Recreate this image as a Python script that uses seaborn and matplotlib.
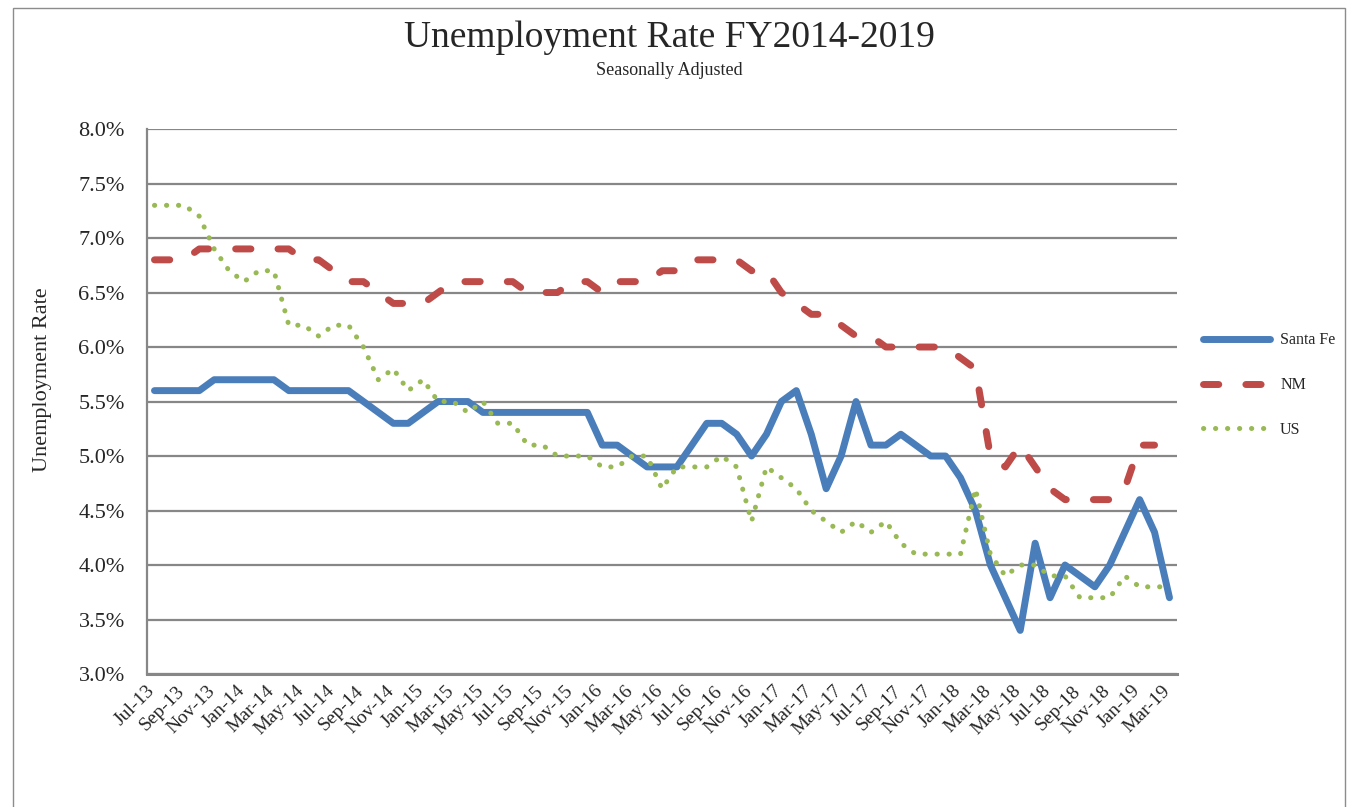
import pandas as pd
import numpy as np
import seaborn as sns
import matplotlib.pyplot as plt
import matplotlib.transforms as mtransforms
from matplotlib.ticker import PercentFormatter
from matplotlib.patches import Rectangle

# monthly categories Jul-13 .. Mar-19
months = pd.date_range("2013-07-01", "2019-03-01", freq="MS").strftime("%b-%y").tolist()

# unemployment rates (%)
santa_fe = [5.6, 5.6, 5.6, 5.6, 5.7, 5.7, 5.7, 5.7, 5.7, 5.6, 5.6, 5.6,
            5.6, 5.6, 5.5, 5.4, 5.3, 5.3, 5.4, 5.5, 5.5, 5.5, 5.4, 5.4,
            5.4, 5.4, 5.4, 5.4, 5.4, 5.4, 5.1, 5.1, 5.0, 4.9, 4.9, 4.9,
            5.1, 5.3, 5.3, 5.2, 5.0, 5.2, 5.5, 5.6, 5.2, 4.7, 5.0, 5.5,
            5.1, 5.1, 5.2, 5.1, 5.0, 5.0, 4.8, 4.5, 4.0, 3.7, 3.4, 4.2,
            3.7, 4.0, 3.9, 3.8, 4.0, 4.3, 4.6, 4.3, 3.7]
nm = [6.8, 6.8, 6.8, 6.9, 6.9, 6.9, 6.9, 6.9, 6.9, 6.9, 6.8, 6.8,
      6.7, 6.6, 6.6, 6.5, 6.4, 6.4, 6.4, 6.5, 6.6, 6.6, 6.6, 6.6,
      6.6, 6.5, 6.5, 6.5, 6.6, 6.6, 6.5, 6.6, 6.6, 6.6, 6.7, 6.7,
      6.8, 6.8, 6.8, 6.8, 6.7, 6.7, 6.5, 6.4, 6.3, 6.3, 6.2, 6.1,
      6.1, 6.0, 6.0, 6.0, 6.0, 6.0, 5.9, 5.8, 5.0, 4.9, 5.1, 4.9,
      4.7, 4.6, 4.6, 4.6, 4.6, 4.7, 5.1, 5.1, np.nan]
us = [7.3, 7.3, 7.3, 7.2, 6.9, 6.7, 6.6, 6.7, 6.7, 6.2, 6.2, 6.1,
      6.2, 6.2, 6.0, 5.7, 5.8, 5.6, 5.7, 5.5, 5.5, 5.4, 5.5, 5.3,
      5.3, 5.1, 5.1, 5.0, 5.0, 5.0, 4.9, 4.9, 5.0, 5.0, 4.7, 4.9,
      4.9, 4.9, 5.0, 4.9, 4.4, 4.9, 4.8, 4.7, 4.5, 4.4, 4.3, 4.4,
      4.3, 4.4, 4.2, 4.1, 4.1, 4.1, 4.1, 4.7, 4.1, 3.9, 4.0, 4.0,
      3.9, 3.9, 3.7, 3.7, 3.7, 3.9, 3.8, 3.8, 3.8]

df = pd.DataFrame({"Month": months, "idx": range(len(months)),
                   "Santa Fe": santa_fe, "NM": nm, "US": us})

sns.set_theme(style="white")
plt.rcParams["font.family"] = ["Liberation Serif", "DejaVu Serif"]

fig = plt.figure(figsize=(13.55, 8.07), dpi=100)
ax = fig.add_axes([0.1085, 0.1648, 0.7601, 0.6753])

sns.lineplot(data=df, x="idx", y="Santa Fe", ax=ax, color="#4A7EBB", lw=5,
             label="Santa Fe", solid_capstyle="round")
sns.lineplot(data=df, x="idx", y="NM", ax=ax, color="#BE4B48", lw=5,
             linestyle=(0, (2.2, 3.9)), dash_capstyle="round", label="NM")
sns.lineplot(data=df, x="idx", y="US", ax=ax, color="#98B954", lw=3.6,
             linestyle=(0, (0.05, 2.35)), dash_capstyle="round", label="US")

ax.set_xlim(-0.5, len(months) - 0.5)
ax.set_ylim(3, 8)
ax.set_yticks(np.arange(3, 8.01, 0.5))
ax.yaxis.set_major_formatter(PercentFormatter(xmax=100, decimals=1))
ax.set_xticks(range(0, len(months), 2))
ax.set_xticklabels(months[::2], rotation=45, ha="right", rotation_mode="anchor")
ax.tick_params(axis="y", length=0, pad=16, labelsize=16)
ax.tick_params(axis="x", length=0, pad=6, labelsize=14)
# nudge the slanted month labels a little to the left
shift = mtransforms.ScaledTranslation(-8 / 100, 0, fig.dpi_scale_trans)
for lab in ax.get_xticklabels():
    lab.set_transform(lab.get_transform() + shift)
ax.set_xlabel("")
ax.set_ylabel("")

ax.yaxis.grid(True, color="#878787", lw=1.6)
ax.set_axisbelow(True)
for s in ["top", "right"]:
    ax.spines[s].set_visible(False)
ax.spines["left"].set_color("#878787")
ax.spines["left"].set_linewidth(1.6)
ax.spines["bottom"].set_color("#878787")
ax.spines["bottom"].set_linewidth(2.2)

ax.legend(loc="center left", bbox_to_anchor=(1.025, 0.53), frameon=False,
          fontsize=11.5, handlelength=4.2, handletextpad=0.65, labelspacing=1.8,
          borderaxespad=0, borderpad=0)

fig.text(0.494, 0.953, "Unemployment Rate FY2014-2019", ha="center", va="center", fontsize=27)
fig.text(0.494, 0.913, "Seasonally Adjusted", ha="center", va="center", fontsize=13)
fig.text(0.031, 0.529, "Unemployment Rate", ha="center", va="center", rotation=90, fontsize=16)

fig.patches.append(Rectangle((13 / 1355, -0.1), 1332 / 1355, 1.1 - 8 / 807,
                             transform=fig.transFigure, fill=False, ec="#8c8c8c", lw=1))

fig.savefig("out.png", dpi=100, facecolor="white")
